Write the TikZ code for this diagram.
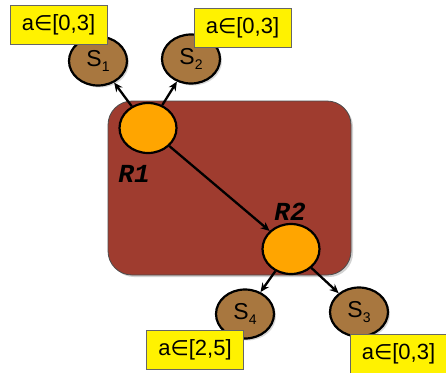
\documentclass[tikz,border=0pt]{standalone}
\usepackage{fontspec}
\setmainfont{Liberation Sans}
\newfontfamily\codefont{Liberation Mono}
\newfontfamily\symfont{DejaVu Sans}
\usetikzlibrary{shapes.geometric,shadows,arrows.meta}
\definecolor{regionred}{HTML}{9F3C2F}
\definecolor{rorange}{HTML}{FFA500}
\definecolor{sbrown}{HTML}{A8773F}
\tikzset{
  region/.style={draw=black!70, line width=0.8pt, fill=regionred, rounded corners=24pt,
    drop shadow={opacity=0.35, shadow xshift=2pt, shadow yshift=-2pt}},
  rnode/.style={ellipse, draw, line width=2.2pt, fill=rorange, minimum width=57pt,
    minimum height=50pt, inner sep=0pt},
  snode/.style={ellipse, draw, line width=2.2pt, fill=sbrown, minimum width=58pt,
    minimum height=49pt, inner sep=0pt, font=\fontsize{23}{23}\selectfont,
    drop shadow={opacity=0.3, shadow xshift=2pt, shadow yshift=-2pt}},
  rlabel/.style={font=\codefont\bfseries\itshape\fontsize{26}{26}\selectfont},
  bound/.style={draw=black!60, line width=0.8pt, fill=yellow, minimum width=97pt,
    minimum height=39pt, inner sep=0pt, font=\fontsize{22}{22}\selectfont},
  link/.style={-{Stealth[length=9pt,width=8pt]}, line width=2.3pt}
}
\newcommand{\sname}[1]{S\raisebox{-0.45ex}{\fontsize{14}{14}\selectfont #1}}
\newcommand{\inset}{{\symfont\fontsize{21}{21}\selectfont ∈}}
\begin{document}
\begin{tikzpicture}[x=1pt,y=-1pt]
\useasboundingbox (0,0) rectangle (446,372);
\fill[white] (0,0) rectangle (446,372);

\path[region] (108,101) rectangle (351,275);

\node[rnode] (r1) at (148,128) {};
\node[rnode] (r2) at (291,249) {};
\node[rlabel] (r1lab) at (134,174) {R1};
\node[rlabel] (r2lab) at (290,212) {R2};

\node[snode] (s1) at (98,61) {\sname{1}};
\node[snode] (s2) at (191,59) {\sname{2}};
\node[snode] (s4) at (245,314) {\sname{4}};
\node[snode] (s3) at (359,312) {\sname{3}};

\draw[link] (r1) -- (s1);
\draw[link] (r1) -- (s2);
\draw[link] (r1) -- (r2);
\draw[link] (r2) -- (s4);
\draw[link] (r2) -- (s3);

\node[bound] (b1) at (58.5,24.5) {a\inset[0,3]};
\node[bound] (b2) at (242.5,27.5) {a\inset[0,3]};
\node[bound] (b4) at (195,350) {a\inset[2,5]};
\node[bound] (b3) at (398.5,353.5) {a\inset[0,3]};
\end{tikzpicture}
\end{document}
